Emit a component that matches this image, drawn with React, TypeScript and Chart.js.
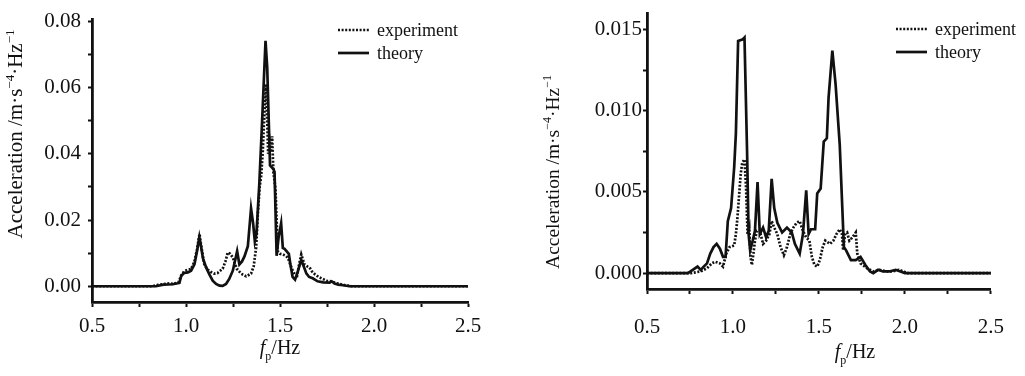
import React, { useEffect, useRef } from "react";
import { Chart, registerables } from "chart.js";

Chart.register(...registerables);

// ---------- data ----------
const xTicks = [0.5, 0.75, 1.0, 1.25, 1.5, 1.75, 2.0, 2.25, 2.5];
const xTickLabels = ["0.5", "", "1.0", "", "1.5", "", "2.0", "", "2.5"];

const leftYTicks = [0, 0.01, 0.02, 0.03, 0.04, 0.05, 0.06, 0.07, 0.08];
const leftYTickLabels = ["0.00", "", "0.02", "", "0.04", "", "0.06", "", "0.08"];

const rightYTicks = [0, 0.0025, 0.005, 0.0075, 0.01, 0.0125, 0.015];
const rightYTickLabels = ["0.000", "", "0.005", "", "0.010", "", "0.015"];

const leftTheoryF = [0.5, 0.84, 0.88, 0.93, 0.965, 0.975, 0.99, 1.01, 1.027, 1.045, 1.06, 1.071, 1.08, 1.09, 1.107, 1.125, 1.142, 1.16, 1.178, 1.195, 1.213, 1.23, 1.249, 1.262, 1.272, 1.284, 1.298, 1.311, 1.329, 1.346, 1.357, 1.366, 1.375, 1.39, 1.405, 1.423, 1.432, 1.447, 1.465, 1.471, 1.482, 1.493, 1.506, 1.515, 1.524, 1.547, 1.557, 1.567, 1.58, 1.595, 1.613, 1.625, 1.64, 1.655, 1.674, 1.7, 1.73, 1.764, 1.775, 1.79, 1.81, 1.835, 1.87, 2.5];
const leftTheoryV = [0, 0, 0.0005, 0.0006, 0.001, 0.0032, 0.004, 0.0042, 0.0047, 0.0066, 0.011, 0.0148, 0.012, 0.0085, 0.0057, 0.0035, 0.0017, 0.0007, 0.0002, 0.0001, 0.0007, 0.0022, 0.0047, 0.008, 0.0106, 0.0066, 0.0075, 0.009, 0.0121, 0.0235, 0.019, 0.0136, 0.016, 0.031, 0.05, 0.0741, 0.066, 0.0365, 0.0354, 0.0345, 0.0092, 0.015, 0.019, 0.0116, 0.0113, 0.0098, 0.006, 0.0028, 0.002, 0.0045, 0.008, 0.0062, 0.0039, 0.0028, 0.0024, 0.0015, 0.0012, 0.0011, 0.0015, 0.0008, 0.0005, 0.0003, 0, 0];

const leftExpF = [0.5, 0.82, 0.85, 0.88, 0.9, 0.93, 0.96, 0.975, 0.99, 1.01, 1.027, 1.045, 1.058, 1.072, 1.08, 1.097, 1.115, 1.133, 1.15, 1.168, 1.195, 1.21, 1.222, 1.235, 1.249, 1.26, 1.27, 1.293, 1.32, 1.346, 1.36, 1.373, 1.382, 1.392, 1.4, 1.408, 1.417, 1.425, 1.432, 1.437, 1.444, 1.452, 1.458, 1.465, 1.476, 1.488, 1.5, 1.515, 1.53, 1.542, 1.555, 1.568, 1.58, 1.591, 1.603, 1.613, 1.622, 1.63, 1.645, 1.657, 1.67, 1.684, 1.705, 1.728, 1.75, 1.772, 1.795, 1.817, 1.84, 1.861, 1.88, 2.5];
const leftExpV = [0, 0, 0.0004, 0.0006, 0.0009, 0.0007, 0.0012, 0.0033, 0.0045, 0.005, 0.0052, 0.0075, 0.011, 0.0158, 0.0125, 0.0067, 0.005, 0.0043, 0.0038, 0.004, 0.0053, 0.0075, 0.0102, 0.0098, 0.0087, 0.0068, 0.0053, 0.0038, 0.003, 0.0038, 0.006, 0.0117, 0.0217, 0.03, 0.0334, 0.0403, 0.0522, 0.061, 0.05, 0.04, 0.0443, 0.0405, 0.0453, 0.0344, 0.0294, 0.0106, 0.0098, 0.0096, 0.0092, 0.0086, 0.0065, 0.0047, 0.0035, 0.0032, 0.007, 0.0096, 0.008, 0.0066, 0.006, 0.0057, 0.0045, 0.0037, 0.0028, 0.0022, 0.0016, 0.0015, 0.001, 0.0007, 0.0004, 0.0002, 0, 0];

const rightTheoryF = [0.5, 0.738, 0.766, 0.794, 0.812, 0.83, 0.849, 0.868, 0.887, 0.905, 0.924, 0.942, 0.957, 0.97, 0.989, 1.007, 1.017, 1.03, 1.058, 1.067, 1.082, 1.091, 1.1, 1.115, 1.128, 1.143, 1.156, 1.175, 1.193, 1.208, 1.225, 1.24, 1.258, 1.286, 1.314, 1.342, 1.36, 1.388, 1.407, 1.426, 1.44, 1.454, 1.478, 1.49, 1.51, 1.528, 1.546, 1.556, 1.578, 1.597, 1.621, 1.639, 1.645, 1.658, 1.686, 1.714, 1.742, 1.77, 1.797, 1.816, 1.844, 1.872, 1.909, 1.946, 1.974, 2.0, 2.5];
const rightTheoryV = [0, 0, 0.0002, 0.0004, 0.0002, 0.0004, 0.0006, 0.0012, 0.0016, 0.0018, 0.0015, 0.001, 0.001, 0.0032, 0.004, 0.0065, 0.0086, 0.0143, 0.0144, 0.0145, 0.0075, 0.0024, 0.0014, 0.002, 0.0026, 0.0056, 0.0024, 0.0028, 0.0022, 0.0026, 0.0058, 0.004, 0.0031, 0.0025, 0.0028, 0.0025, 0.0018, 0.0012, 0.0024, 0.0051, 0.0024, 0.0027, 0.0027, 0.0049, 0.0052, 0.0081, 0.0083, 0.0108, 0.0137, 0.0116, 0.0079, 0.0032, 0.0016, 0.0014, 0.0008, 0.0008, 0.001, 0.0005, 0.0001, 0, 0.0002, 0.0001, 0.0001, 0.0002, 0.0001, 0, 0];

const rightExpF = [0.5, 0.757, 0.812, 0.849, 0.877, 0.896, 0.924, 0.942, 0.961, 0.98, 1.007, 1.017, 1.026, 1.035, 1.045, 1.054, 1.067, 1.076, 1.085, 1.095, 1.102, 1.11, 1.119, 1.128, 1.138, 1.156, 1.175, 1.193, 1.212, 1.225, 1.24, 1.258, 1.277, 1.296, 1.314, 1.333, 1.351, 1.37, 1.388, 1.407, 1.426, 1.444, 1.459, 1.474, 1.49, 1.505, 1.522, 1.537, 1.565, 1.584, 1.602, 1.621, 1.634, 1.641, 1.652, 1.664, 1.677, 1.695, 1.714, 1.723, 1.742, 1.779, 1.816, 1.853, 1.89, 1.927, 1.965, 1.993, 2.01, 2.5];
const rightExpV = [0, 0, 0.0001, 0.0003, 0.0006, 0.0007, 0.0006, 0.0004, 0.0012, 0.0016, 0.0017, 0.0024, 0.0034, 0.0047, 0.0061, 0.0068, 0.007, 0.0053, 0.0024, 0.0028, 0.001, 0.0005, 0.0012, 0.002, 0.0026, 0.0026, 0.0018, 0.002, 0.0024, 0.0032, 0.0028, 0.0024, 0.0016, 0.0011, 0.0016, 0.0024, 0.0028, 0.0031, 0.0032, 0.0026, 0.0022, 0.002, 0.001, 0.0005, 0.0004, 0.0008, 0.0016, 0.002, 0.0018, 0.002, 0.0024, 0.0027, 0.0024, 0.0014, 0.0024, 0.0025, 0.002, 0.0022, 0.0025, 0.0012, 0.0006, 0.0003, 0.0001, 0.0002, 0.0001, 0.0001, 0.0002, 0.0001, 0, 0];

const legendLabels = ["experiment", "theory"];

// ---------- helpers ----------
const FONT = '"Liberation Serif", "Times New Roman", serif';
const INK = "#111111";
const LINE_W = 2.7;

const zip = (f: number[], v: number[]) => f.map((x, i) => ({ x, y: v[i] }));

const decorPlugin = {
  id: "decor",
  afterDraw(chart: any, _args: any, opts: any) {
    const ctx = chart.ctx as CanvasRenderingContext2D;
    ctx.save();
    ctx.fillStyle = INK;
    ctx.strokeStyle = INK;

    // legend
    const lg = opts.legend;
    legendLabels.forEach((lab, i) => {
      const ly = lg.y + i * lg.gap;
      ctx.beginPath();
      ctx.lineWidth = LINE_W;
      ctx.setLineDash(i === 0 ? [2, 1.6] : []);
      ctx.moveTo(lg.x, ly);
      ctx.lineTo(lg.x + lg.len, ly);
      ctx.stroke();
      ctx.setLineDash([]);
      ctx.font = `${lg.size}px ${FONT}`;
      ctx.textBaseline = "middle";
      ctx.textAlign = "left";
      ctx.fillText(lab, lg.x + lg.len + lg.textGap, ly + 1);
    });

    // y title (rotated, with superscripts)
    const yt = opts.yTitle;
    const s = yt.size;
    const parts = [
      { t: "Acceleration /m·s", sup: false },
      { t: "−4", sup: true },
      { t: "·Hz", sup: false },
      { t: "−1", sup: true },
    ];
    const fontOf = (sup: boolean) => `${sup ? Math.round(s * 0.62) : s}px ${FONT}`;
    let total = 0;
    parts.forEach((p) => {
      ctx.font = fontOf(p.sup);
      total += ctx.measureText(p.t).width;
    });
    ctx.save();
    ctx.translate(yt.x, yt.y);
    ctx.rotate(-Math.PI / 2);
    ctx.textBaseline = "alphabetic";
    ctx.textAlign = "left";
    let cx = -total / 2;
    parts.forEach((p) => {
      ctx.font = fontOf(p.sup);
      ctx.fillText(p.t, cx, p.sup ? s * 0.35 - s * 0.42 : s * 0.35);
      cx += ctx.measureText(p.t).width;
    });
    ctx.restore();

    // x title: f_p/Hz
    const xt = opts.xTitle;
    const xs = xt.size;
    const xparts = [
      { t: "f", font: `italic ${xs}px ${FONT}`, dy: 0 },
      { t: "p", font: `${Math.round(xs * 0.6)}px ${FONT}`, dy: xs * 0.28 },
      { t: "/Hz", font: `${xs}px ${FONT}`, dy: 0 },
    ];
    let xtot = 0;
    xparts.forEach((p) => {
      ctx.font = p.font;
      xtot += ctx.measureText(p.t).width;
    });
    let px = xt.x - xtot / 2;
    ctx.textBaseline = "alphabetic";
    ctx.textAlign = "left";
    xparts.forEach((p) => {
      ctx.font = p.font;
      ctx.fillText(p.t, px, xt.y + p.dy);
      px += ctx.measureText(p.t).width;
    });

    ctx.restore();
  },
};

type PanelCfg = {
  expF: number[];
  expV: number[];
  thF: number[];
  thV: number[];
  yMin: number;
  yMax: number;
  yTicks: number[];
  yLabels: string[];
  yWidth: number;
  xHeight: number;
  padTop: number;
  padRight: number;
  yPad: number;
  xPad: number;
  legend: any;
  yTitle: any;
  xTitle: any;
};

function buildConfig(p: PanelCfg): any {
  return {
    type: "line",
    data: {
      datasets: [
        {
          label: legendLabels[0],
          data: zip(p.expF, p.expV),
          borderColor: INK,
          borderWidth: LINE_W,
          borderDash: [2, 1.6],
          pointRadius: 0,
          tension: 0,
          fill: false,
        },
        {
          label: legendLabels[1],
          data: zip(p.thF, p.thV),
          borderColor: INK,
          borderWidth: LINE_W,
          pointRadius: 0,
          tension: 0,
          fill: false,
        },
      ],
    },
    options: {
      animation: false,
      responsive: false,
      maintainAspectRatio: false,
      devicePixelRatio: 1,
      layout: { padding: { left: 0, right: p.padRight, top: p.padTop, bottom: 0 } },
      plugins: {
        legend: { display: false },
        tooltip: { enabled: false },
        decor: { legend: p.legend, yTitle: p.yTitle, xTitle: p.xTitle },
      },
      scales: {
        x: {
          type: "linear",
          min: 0.5,
          max: 2.5,
          afterBuildTicks: (axis: any) => {
            axis.ticks = xTicks.map((v) => ({ value: v }));
          },
          afterFit: (axis: any) => {
            axis.height = p.xHeight;
          },
          grid: {
            display: true,
            drawOnChartArea: false,
            drawTicks: true,
            tickLength: 5,
            tickWidth: 2,
            tickColor: INK,
            color: INK,
          },
          border: { display: true, color: INK, width: 2.8 },
          ticks: {
            autoSkip: false,
            maxRotation: 0,
            padding: p.xPad,
            color: INK,
            font: { family: FONT, size: 21 },
            callback: (_v: any, i: number) => xTickLabels[i],
          },
        },
        y: {
          type: "linear",
          min: p.yMin,
          max: p.yMax,
          afterBuildTicks: (axis: any) => {
            axis.ticks = p.yTicks.map((v) => ({ value: v }));
          },
          afterFit: (axis: any) => {
            axis.width = p.yWidth;
          },
          grid: {
            display: true,
            drawOnChartArea: false,
            drawTicks: true,
            tickLength: 4,
            tickWidth: 2,
            tickColor: INK,
            color: INK,
          },
          border: { display: true, color: INK, width: 2.8 },
          ticks: {
            autoSkip: false,
            padding: p.yPad,
            color: INK,
            font: { family: FONT, size: 21 },
            callback: (_v: any, i: number) => p.yLabels[i],
          },
        },
      },
    },
    plugins: [decorPlugin],
  };
}

function Panel({ cfg, left, width }: { cfg: PanelCfg; left: number; width: number }) {
  const ref = useRef<HTMLCanvasElement | null>(null);
  useEffect(() => {
    if (!ref.current) return;
    const chart = new Chart(ref.current, buildConfig(cfg));
    return () => chart.destroy();
  }, []);
  return (
    <canvas
      ref={ref}
      width={width}
      height={376}
      style={{ position: "absolute", left, top: 0, width, height: 376, display: "block" }}
    />
  );
}

const leftCfg: PanelCfg = {
  expF: leftExpF,
  expV: leftExpV,
  thF: leftTheoryF,
  thV: leftTheoryV,
  yMin: -0.00475,
  yMax: 0.0805,
  yTicks: leftYTicks,
  yLabels: leftYTickLabels,
  yWidth: 92,
  xHeight: 74,
  padTop: 15,
  padRight: 32,
  yPad: 7,
  xPad: 7,
  legend: { x: 338, y: 30, gap: 23, len: 31, textGap: 8, size: 18 },
  yTitle: { x: 15, y: 134, size: 21 },
  xTitle: { x: 280, y: 354, size: 20 },
};

const rightCfg: PanelCfg = {
  expF: rightExpF,
  expV: rightExpV,
  thF: rightTheoryF,
  thV: rightTheoryV,
  yMin: -0.00098,
  yMax: 0.01598,
  yTicks: rightYTicks,
  yLabels: rightYTickLabels,
  yWidth: 137,
  xHeight: 87,
  padTop: 12,
  padRight: 19,
  yPad: 1,
  xPad: 21,
  legend: { x: 896, y: 29, gap: 23, len: 31, textGap: 8, size: 18 },
  yTitle: { x: 42, y: 172, size: 19.5 },
  xTitle: { x: 345, y: 358, size: 20 },
};
// right legend x is given relative to its own canvas below
rightCfg.legend = { ...rightCfg.legend, x: rightCfg.legend.x - 510 };

export default function App() {
  return (
    <div style={{ position: "absolute", left: 0, top: 0, width: 1025, height: 376, background: "#fff" }}>
      <Panel cfg={leftCfg} left={0} width={500} />
      <Panel cfg={rightCfg} left={510} width={515} />
    </div>
  );
}
